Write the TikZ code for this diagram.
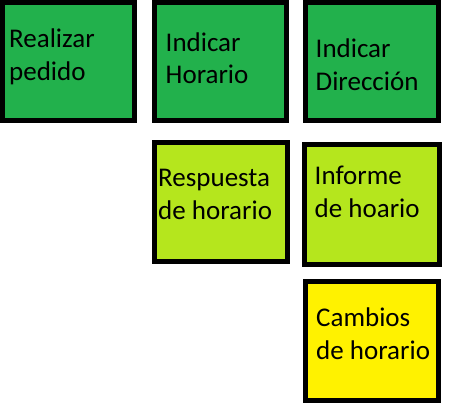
\documentclass[tikz,border=0pt]{standalone}
\usepackage{fontspec}
\setmainfont{Carlito}
\definecolor{dkgreen}{HTML}{22B14C}
\definecolor{ltgreen}{HTML}{B5E61D}
\definecolor{ylw}{HTML}{FFF200}
\begin{document}
\begin{tikzpicture}[x=1pt,y=-1pt,
  box/.style={draw=black,line width=5pt},
  lbl/.style={anchor=base west,inner sep=0pt,align=left,
    font=\fontsize{27}{32.5}\selectfont}]
\useasboundingbox (0,0) rectangle (452,410);
\path[box,fill=dkgreen] (2.5,2.5) rectangle (134.5,120.5) node[midway] (b1) {};
\path[box,fill=dkgreen] (154.5,2.5) rectangle (286.5,120.5) node[midway] (b2) {};
\path[box,fill=dkgreen] (305.5,2.5) rectangle (438.5,120.5) node[midway] (b3) {};
\path[box,fill=ltgreen] (154.5,142.5) rectangle (287.5,261.5) node[midway] (b4) {};
\path[box,fill=ltgreen] (304.5,144.5) rectangle (439.5,264.5) node[midway] (b5) {};
\path[box,fill=ylw] (305.5,281.5) rectangle (438.5,400.5) node[midway] (b6) {};
\node[lbl] (t1) at (9,80) {Realizar\\pedido};
\node[lbl] (t2) at (165.5,83.5) {Indicar\\Horario};
\node[lbl] (t3) at (315.5,90) {Indicar\\Dirección};
\node[lbl] (t4) at (158,219) {Respuesta\\de horario};
\node[lbl] (t5) at (314.5,217) {Informe\\de hoario};
\node[lbl] (t6) at (316,359) {Cambios\\de horario};
\end{tikzpicture}
\end{document}
